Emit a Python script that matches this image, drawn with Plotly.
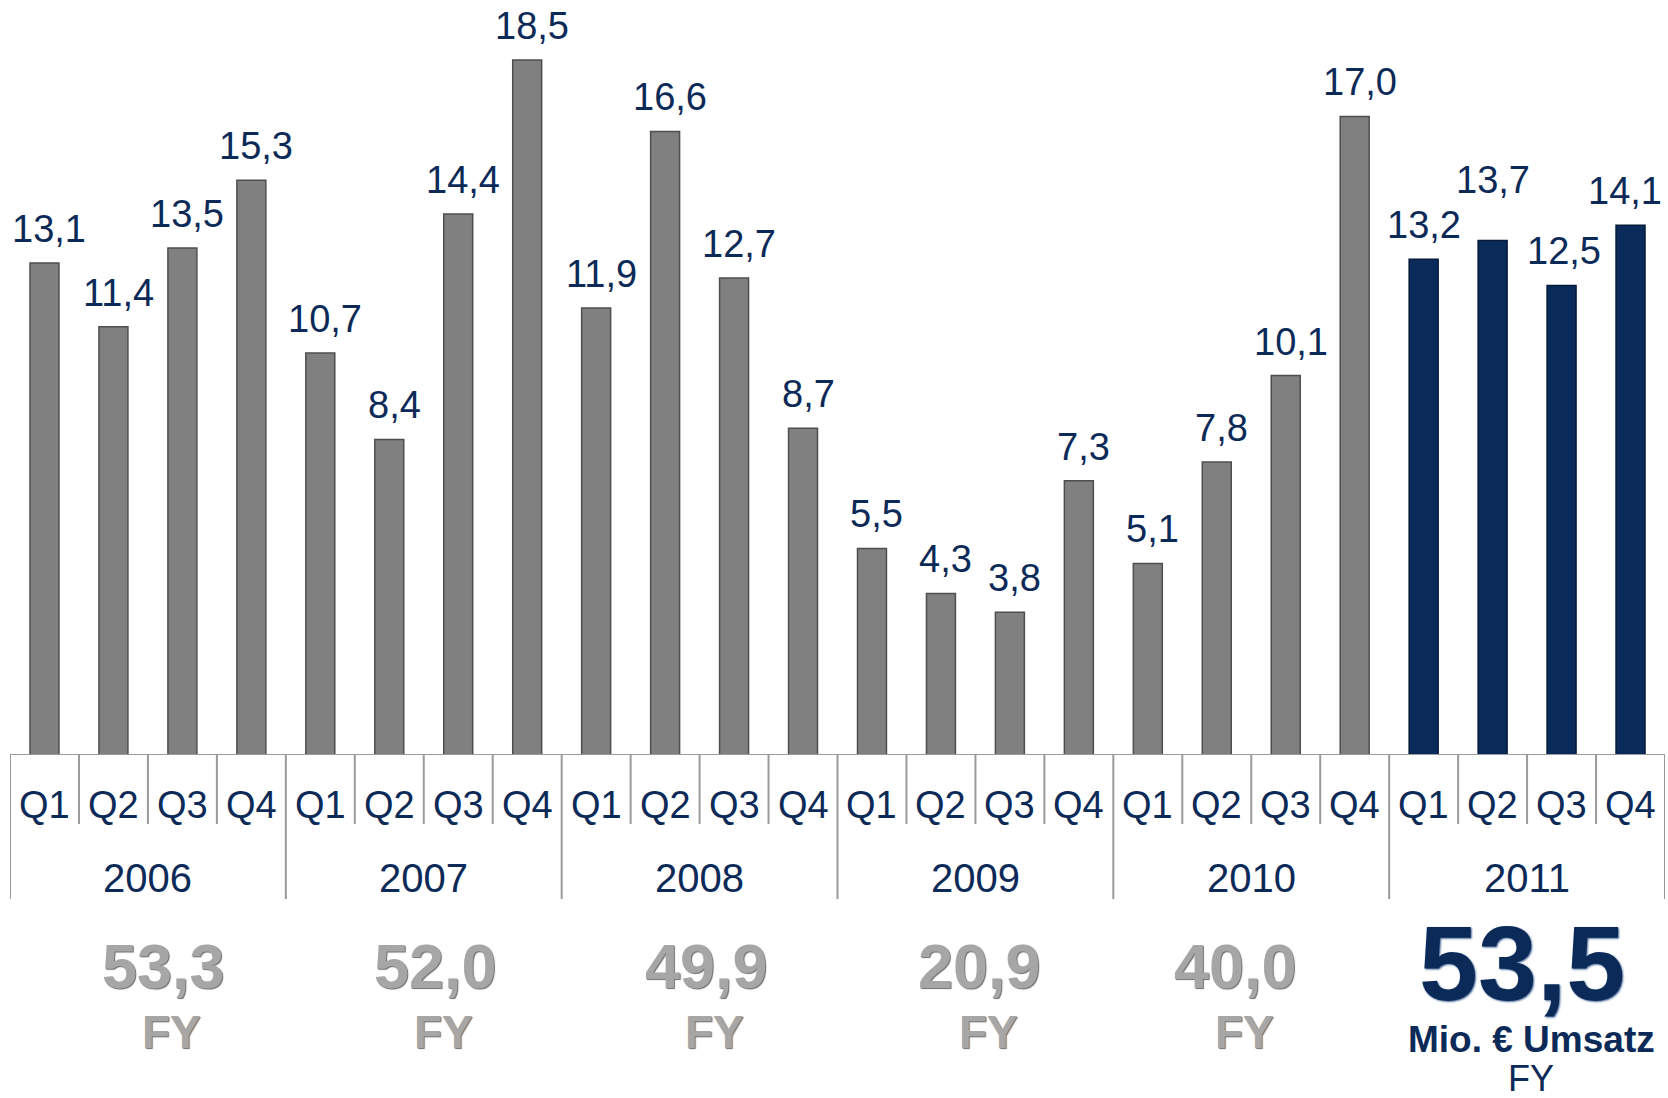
import plotly.graph_objects as go

years = ["2006", "2007", "2008", "2009", "2010", "2011"]
quarters = ["Q1", "Q2", "Q3", "Q4"]
values = [13.1, 11.4, 13.5, 15.3,
          10.7, 8.4, 14.4, 18.5,
          11.9, 16.6, 12.7, 8.7,
          5.5, 4.3, 3.8, 7.3,
          5.1, 7.8, 10.1, 17.0,
          13.2, 13.7, 12.5, 14.1]
fy_totals = ["53,3", "52,0", "49,9", "20,9", "40,0", "53,5"]

FONT = "Liberation Sans, Arial, sans-serif"
NAVY = "#0c2a58"
GRAY_TXT = "#a6a6a6"
PX_TOTAL_H = 1098
PLOT_H = 755

n = len(values)
xs = list(range(n))
highlight_year = years[-1]
colors = ["#0a2a5a" if years[i // 4] == highlight_year else "#808080" for i in xs]
lines = ["#061a3a" if years[i // 4] == highlight_year else "#4e4e4e" for i in xs]

fig = go.Figure()
fig.add_trace(go.Bar(
    x=xs, y=values, width=0.42,
    marker=dict(color=colors, line=dict(color=lines, width=1.5)),
    hoverinfo="skip",
))

def fmt(v):
    return f"{v:.1f}".replace(".", ",")

# layout tweaks (pixel offsets of text boxes)
label_raise = {21: 26}
label_xshift = {20: 0, 21: 0, 22: 2, 23: -6}
total_xshift = [16, 12, 7, 4, -16, -5]
fy_xshift = [24, 20, 15, 13, -7, 4]

annotations = []
for i, v in enumerate(values):
    annotations.append(dict(
        x=i, y=v, xref="x", yref="y", text=fmt(v), showarrow=False,
        yanchor="bottom", yshift=11 + label_raise.get(i, 0),
        xshift=label_xshift.get(i, 5),
        font=dict(family=FONT, size=38, color=NAVY),
    ))
    annotations.append(dict(
        x=i, y=0, xref="x", yref="paper", text=quarters[i % 4], showarrow=False,
        yanchor="middle", yshift=-50,
        font=dict(family=FONT, size=38, color=NAVY),
    ))

for k, yr in enumerate(years):
    cx = 4 * k + 1.5
    annotations.append(dict(
        x=cx, y=0, xref="x", yref="paper", text=yr, showarrow=False,
        yanchor="middle", yshift=-123,
        font=dict(family=FONT, size=40, color=NAVY),
    ))
    if yr == highlight_year:
        annotations.append(dict(
            x=cx, y=0, xref="x", yref="paper", text=f"<b>{fy_totals[k]}</b>",
            showarrow=False, yanchor="middle", yshift=-208, xshift=total_xshift[k],
            font=dict(family=FONT, size=106, color=NAVY,
                      shadow="1px 1px 2px #4a6a9a"),
        ))
        annotations.append(dict(
            x=cx, y=0, xref="x", yref="paper", text="<b>Mio. € Umsatz</b>",
            showarrow=False, yanchor="middle", yshift=-284, xshift=fy_xshift[k],
            font=dict(family=FONT, size=37, color=NAVY),
        ))
        annotations.append(dict(
            x=cx, y=0, xref="x", yref="paper", text="FY",
            showarrow=False, yanchor="middle", yshift=-323, xshift=fy_xshift[k],
            borderpad=0,
            font=dict(family=FONT, size=36, color=NAVY),
        ))
    else:
        annotations.append(dict(
            x=cx, y=0, xref="x", yref="paper", text=f"<b>{fy_totals[k]}</b>",
            showarrow=False, yanchor="middle", yshift=-211, xshift=total_xshift[k],
            font=dict(family=FONT, size=63, color=GRAY_TXT,
                      shadow="1px 1px 1px #6e6e6e"),
        ))
        annotations.append(dict(
            x=cx, y=0, xref="x", yref="paper", text="<b>FY</b>",
            showarrow=False, yanchor="middle", yshift=-277, xshift=fy_xshift[k],
            font=dict(family=FONT, size=46, color=GRAY_TXT,
                      shadow="1px 1px 1px #6e6e6e"),
        ))

shapes = [dict(type="line", xref="x", yref="y", x0=-0.5, x1=n - 0.5, y0=0, y1=0,
               line=dict(color="#9a9a9a", width=2))]
for b in range(n + 1):
    depth = 144 if b % 4 == 0 else 69
    shapes.append(dict(type="line", xref="x", yref="paper",
                       x0=b - 0.5, x1=b - 0.5, y0=0, y1=-depth / PLOT_H,
                       line=dict(color="#9a9a9a", width=2)))

fig.update_layout(
    width=1668, height=PX_TOTAL_H,
    margin=dict(l=10, r=3, t=0, b=PX_TOTAL_H - PLOT_H),
    paper_bgcolor="white", plot_bgcolor="white",
    showlegend=False,
    xaxis=dict(range=[-0.5, n - 0.5], showticklabels=False, showgrid=False,
               zeroline=False, showline=False, fixedrange=True),
    yaxis=dict(range=[0, 20.1], showticklabels=False, showgrid=False,
               zeroline=False, showline=False, fixedrange=True),
    annotations=annotations,
    shapes=shapes,
)

fig.write_html(
    "out.html",
    config={"displayModeBar": False},
    post_script="document.body.style.margin='0';document.body.style.overflow='hidden';",
)
